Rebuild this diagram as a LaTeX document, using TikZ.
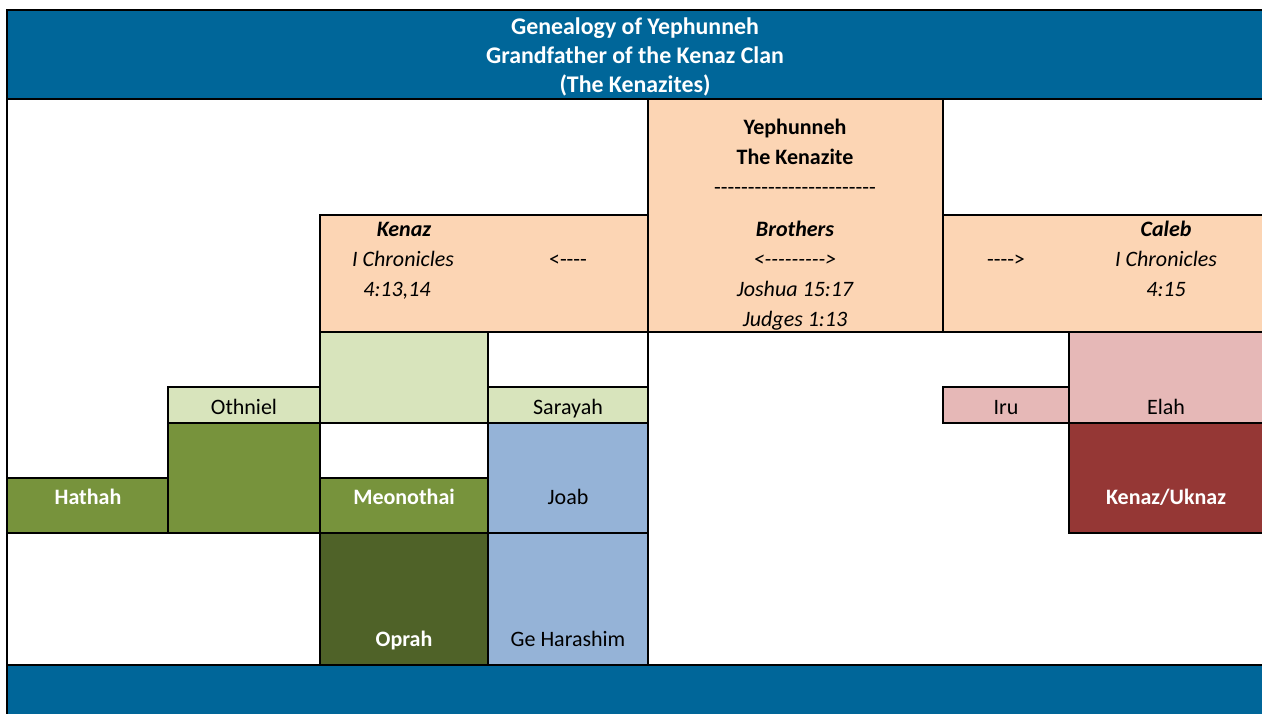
\documentclass[tikz,border=0pt]{standalone}
\usepackage{fontspec}
\setmainfont{Carlito}
\newfontfamily\plainfont{Carlito}

\definecolor{hdrblue}{RGB}{0,102,153}
\definecolor{peach}{RGB}{252,213,180}
\definecolor{lgreen}{RGB}{216,228,188}
\definecolor{olive}{RGB}{119,147,60}
\definecolor{dkolive}{RGB}{79,98,40}
\definecolor{lblue}{RGB}{149,179,215}
\definecolor{pink}{RGB}{230,184,183}
\definecolor{dkred}{RGB}{149,55,53}

\tikzset{
  cell/.style={draw=black, line width=1.2pt},
  txt/.style={font=\fontsize{16.5}{19}\selectfont, inner sep=0pt, anchor=base},
  btxt/.style={txt, font=\fontsize{16.5}{19}\selectfont\bfseries},
  itxt/.style={txt, font=\fontsize{16.5}{19}\selectfont\itshape},
  bitxt/.style={txt, font=\fontsize{16.5}{19}\selectfont\bfseries\itshape},
  dtxt/.style={txt, font=\fontsize{16.5}{19}\selectfont\plainfont},
  ditxt/.style={txt, font=\fontsize{16.5}{19}\selectfont\plainfont\itshape},
  wtxt/.style={btxt, text=white}
}

\begin{document}
\begin{tikzpicture}[x=0.75pt,y=-0.75pt]
    \useasboundingbox (0,0) rectangle (1262,713);
    \clip (0,0) rectangle (1262,713);
    %Ramme
        \filldraw[white] (0,0) rectangle (1262,713);
        \filldraw[cell, fill=hdrblue] (7,10) rectangle (1275,99);
        \filldraw[cell, fill=hdrblue] (7,665) rectangle (1275,720);
        \draw[cell] (7,10)--(7,720);
        \node[inner sep=0pt, text=white, font=\fontsize{17.9}{22}\selectfont\bfseries, align=center] (title) at (635,57)
            {Genealogy of Yephunneh\\Grandfather of the Kenaz Clan\\(The Kenazites)};
    %Yephunneh og brodrene
        \filldraw[cell, fill=peach] (320,215) rectangle (648,332);
        \filldraw[cell, fill=peach] (943,215) rectangle (1275,332);
        \filldraw[cell, fill=peach] (648,99) rectangle (943,332);
        \node[btxt] (yephunneh) at (795,135) {Yephunneh};
        \node[btxt] (kenazite) at (795,165) {The Kenazite};
        \node[dtxt] (rule) at (795,195) {------------------------};
        \node[bitxt] (brothers) at (795,236) {Brothers};
        \node[ditxt] (both) at (795,266) {<--------->};
        \node[itxt] (joshua) at (795,296) {Joshua 15:17};
        \node[itxt] (judges) at (795,326) {Judges 1:13};
        %
        \node[bitxt] (kenaz) at (404,236) {Kenaz};
        \node[itxt] (kchron) at (403,266) {I Chronicles};
        \node[itxt] (kverse) at (397,296) {4:13,14};
        \node[dtxt] (toleft) at (568,266) {<----};
        %
        \node[dtxt] (toright) at (1006,266) {---->};
        \node[bitxt] (caleb) at (1166,236) {Caleb};
        \node[itxt] (cchron) at (1166,266) {I Chronicles};
        \node[itxt] (cverse) at (1166,296) {4:15};
    %Kenaz sine etterkommere
        \draw[cell] (648,332)--(648,665);
        \filldraw[cell, fill=lgreen] (320,332) rectangle (488,423);
        \filldraw[cell, fill=lgreen] (168,387) rectangle (320,423);
        \filldraw[cell, fill=lgreen] (488,387) rectangle (648,423);
        \filldraw[cell, fill=olive] (168,423) rectangle (320,533);
        \filldraw[cell, fill=olive] (7,478) rectangle (168,533);
        \filldraw[cell, fill=olive] (320,478) rectangle (488,533);
        \filldraw[cell, fill=dkolive] (320,533) rectangle (488,665);
        \filldraw[cell, fill=lblue] (488,423) rectangle (648,533);
        \filldraw[cell, fill=lblue] (488,533) rectangle (648,665);
        \node[txt] (othniel) at (244,414) {Othniel};
        \node[txt] (sarayah) at (568,414) {Sarayah};
        \node[wtxt] (hathah) at (88,504) {Hathah};
        \node[wtxt] (meonothai) at (404,504) {Meonothai};
        \node[txt] (joab) at (568,504) {Joab};
        \node[wtxt] (oprah) at (404,646) {Oprah};
        \node[txt] (geharashim) at (568,646) {Ge Harashim};
    %Caleb sine etterkommere
        \filldraw[cell, fill=pink] (943,387) rectangle (1069,423);
        \filldraw[cell, fill=pink] (1069,332) rectangle (1275,423);
        \filldraw[cell, fill=dkred] (1069,423) rectangle (1275,533);
        \node[txt] (iru) at (1006,414) {Iru};
        \node[txt] (elah) at (1166,414) {Elah};
        \node[wtxt] (uknaz) at (1166,504) {Kenaz/Uknaz};
\end{tikzpicture}
\end{document}
